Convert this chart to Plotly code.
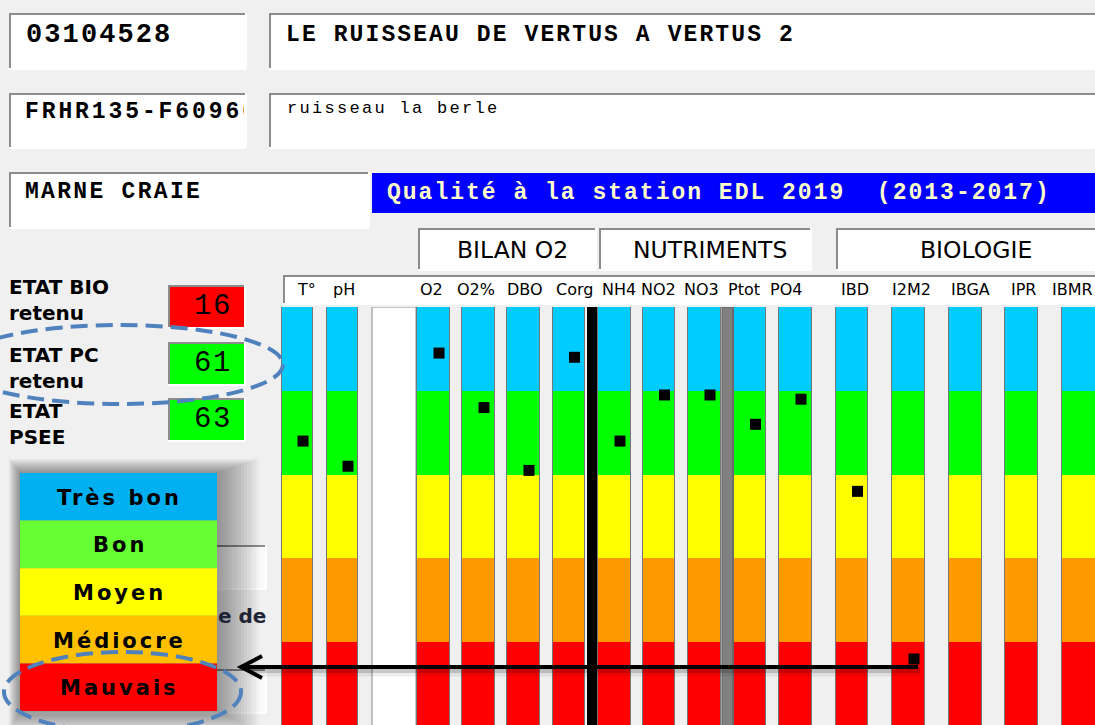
import plotly.graph_objects as go

# ---------------- data ----------------
params = ["T°", "pH", "O2", "O2%", "DBO", "Corg", "NH4", "NO2", "NO3",
          "Ptot", "PO4", "IBD", "I2M2", "IBGA", "IPR", "IBMR"]
scores = [68, 62, 89, 76, 61, 88, 68, 79, 79, 72, 78, 56, 16, 0, 0, 0]

class_names = ["Mauvais", "Médiocre", "Moyen", "Bon", "Très bon"]
class_lower = [0, 20, 40, 60, 80]
class_upper = [20, 40, 60, 80, 100]

etat_labels = ["ETAT BIO<br>retenu", "ETAT PC<br>retenu", "ETAT<br>PSEE"]
etat_values = [16, 61, 63]

group_names = ["BILAN O2", "NUTRIMENTS", "BIOLOGIE"]

station_code = "03104528"
station_name = "LE RUISSEAU DE VERTUS A VERTUS 2"
water_body = "FRHR135-F60960"
river_name = "ruisseau la berle"
hydro_region = "MARNE CRAIE"
panel_title = "Qualité à la station EDL 2019  (2013-2017)"

# ---------------- layout constants (pixels) ----------------
W, H = 1095, 725
BG = "#F0F0F0"
BORDER = "#8C8C8C"
bar_colors = ["#FF0000", "#FF9900", "#FFFF00", "#00FF00", "#00CCFF"]
legend_colors = ["#FF0000", "#FFC000", "#FFFF00", "#66FF33", "#00B0F0"]

col_left = [282, 327, 417, 462, 507, 553, 598, 643, 688, 734, 779, 836, 892, 949, 1005, 1062]
col_right = [313, 358, 450, 495, 540, 585, 631, 675, 721, 766, 812, 868, 925, 982, 1038, 1096]
centers = [(a + b) / 2 for a, b in zip(col_left, col_right)]
widths = [b - a for a, b in zip(col_left, col_right)]
marker_x = [c + 5.5 for c in centers]
label_x = [306, 344, 431, 476, 525, 574, 619, 658, 701, 744, 786, 855, 911, 970, 1023, 1072]

# score axis: 100 at pixel row 307, 0 at pixel row 726
Y_TOP_PX, Y_ZERO_PX = 307, 726
px_per_unit = (Y_ZERO_PX - Y_TOP_PX) / 100.0
y2_bottom = (Y_ZERO_PX - H) / px_per_unit
y2_domain_top = (H - Y_TOP_PX) / H

shapes = []
annotations = []


def rect(x0, y0, x1, y1, fill, line_color=None, lw=0, layer="above", yref="y"):
    shapes.append(dict(type="rect", xref="x", yref=yref, x0=x0, y0=y0, x1=x1, y1=y1,
                       fillcolor=fill, layer=layer,
                       line=dict(width=lw, color=line_color or "rgba(0,0,0,0)")))


def seg(x0, y0, x1, y1, color, width, layer="above", yref="y"):
    shapes.append(dict(type="line", xref="x", yref=yref, x0=x0, y0=y0, x1=x1, y1=y1,
                       layer=layer, line=dict(color=color, width=width)))


def sunken(x0, y0, x1, y1, fill="white", layer="below"):
    rect(x0, y0, x1, y1, fill, layer=layer)
    seg(x0, y0 + 1, x1, y0 + 1, BORDER, 2, layer=layer)
    seg(x0 + 1, y0, x0 + 1, y1, BORDER, 2, layer=layer)
    seg(x0, y1 + 1, x1 + 1, y1 + 1, "white", 2, layer=layer)
    seg(x1 + 1, y0, x1 + 1, y1 + 1, "white", 2, layer=layer)


def text(x, y, s, size, family="DejaVu Sans", color="black", weight="normal",
         anchor="center", ls=None):
    if ls:
        s = f'<span style="letter-spacing:{ls}px">{s}</span>'
    annotations.append(dict(x=x, y=y, xref="x", yref="y", text=s, showarrow=False,
                            xanchor=anchor, yanchor="middle", borderpad=0,
                            font=dict(family=family, size=size, color=color, weight=weight)))


MONO = "Liberation Mono"

# ---- header fields ----
sunken(9, 13, 245, 68)
sunken(269, 13, 1100, 68)
sunken(9, 93, 245, 147)
sunken(269, 93, 1100, 147)
sunken(9, 172, 368, 227)
rect(372, 173, 1100, 213, "#0000FF", layer="below")

text(25, 35, station_code, 27, MONO, weight="bold", anchor="left", ls=2.1)
text(285, 35, station_name, 23, MONO, weight="bold", anchor="left", ls=2.1)
text(286, 108, river_name, 17, MONO, anchor="left", ls=2.3)
text(24, 192, hydro_region, 23, MONO, weight="bold", anchor="left", ls=2.3)
text(386, 193, panel_title, 23, MONO, color="#FFFFCC", weight="bold", anchor="left", ls=2.0)

# ---- group headers ----
group_boxes = [(418, 595), (599, 810), (836, 1100)]
group_text_x = [512, 710, 976]
for (gx0, gx1), gx, name in zip(group_boxes, group_text_x, group_names):
    sunken(gx0, 228, gx1, 269)
    text(gx, 250, name, 23.5)

# ---- parameter header row ----
sunken(283, 275, 1100, 303)
for lx, p in zip(label_x, params):
    text(lx, 289, p, 16)

# ---- left status block ----
etat_y = [300, 368, 424]
etat_box_y = [(285, 327), (342, 384), (398, 440)]


def class_color(v):
    for lo, hi, c in zip(class_lower, class_upper, bar_colors):
        if lo <= v < hi or (v == 100 and hi == 100):
            return c
    return bar_colors[0]


for lbl, ly, (by0, by1), val in zip(etat_labels, etat_y, etat_box_y, etat_values):
    annotations.append(dict(x=8, y=ly, xref="x", yref="y", text=lbl, showarrow=False,
                            xanchor="left", yanchor="middle", align="left", borderpad=0,
                            font=dict(family="DejaVu Sans", size=20, color="black", weight="bold")))
    sunken(168, by0, 244, by1, fill=class_color(val))
    text(213, (by0 + by1) / 2, str(val), 29, MONO, ls=1.5)

# boxes partly hidden behind the legend
sunken(20, 545, 265, 588, fill="#FAFAFA")
sunken(20, 669, 265, 712, fill="#FAFAFA")
text(217, 616, "e de", 20, "DejaVu Sans", color="#1E2433", weight="bold", anchor="left")

# ---- legend with soft drop shadow ----
LX0, LY0, LX1, LY1 = 20, 473, 217, 711
for k in range(1, 15):
    rect(LX0 - 0.8 * k, LY0 - 1.0 * k, LX1 + 3.0 * k, LY1 + 1.5 * k, "rgba(0,0,0,0.03)")
row_h = (LY1 - LY0) / len(class_names)
for i, (name, col) in enumerate(zip(class_names[::-1], legend_colors[::-1])):
    ry0 = LY0 + i * row_h
    rect(LX0, ry0, LX1, ry0 + row_h, col)
    text((LX0 + LX1) / 2 + 1, ry0 + row_h / 2 + 1, name, 21, "DejaVu Sans", weight="bold", ls=3)

# ---- separator columns inside the chart ----
rect(372, 0, 416, 100, "white", line_color="#8A8A8A", lw=1, yref="y2", layer="below")
rect(587, 0, 597, 100, "black", yref="y2")
rect(722, 0, 733, 100, "#808080", line_color="#5A5A5A", lw=1, yref="y2")

# ---- arrow (with shadow) ----
ARROW_Y, ARROW_X0, ARROW_X1 = 667, 918, 241
for off, w, a in [(5, 9, 0.07), (3, 6, 0.16)]:
    seg(ARROW_X1 + 8, ARROW_Y + off, ARROW_X0 + 2, ARROW_Y + off, f"rgba(0,0,0,{a})", w)
seg(ARROW_X0, ARROW_Y, ARROW_X1 + 2, ARROW_Y, "black", 4)
shapes.append(dict(type="path", xref="x", yref="y",
                   path=f"M {ARROW_X1 + 21},{ARROW_Y - 11} L {ARROW_X1},{ARROW_Y} L {ARROW_X1 + 21},{ARROW_Y + 11}",
                   line=dict(color="black", width=4), fillcolor="rgba(0,0,0,0)"))

# ---- dashed highlight ellipses ----
ELL = dict(color="#4F81BD", width=4, dash="17px,8px")
shapes.append(dict(type="circle", xref="x", yref="y", x0=-44, y0=325, x1=283, y1=404, line=ELL))
shapes.append(dict(type="circle", xref="x", yref="y", x0=4, y0=652, x1=241, y1=732, line=ELL))

# ---------------- traces ----------------
fig = go.Figure()
n = len(params)
for k in range(len(class_names)):
    fig.add_trace(go.Bar(
        x=centers, y=[class_upper[k] - class_lower[k]] * n, base=[class_lower[k]] * n,
        width=widths, marker=dict(color=bar_colors[k], line=dict(width=0)),
        xaxis="x", yaxis="y2", hoverinfo="skip", showlegend=False, name=class_names[k]))
fig.add_trace(go.Bar(
    x=centers, y=[class_upper[-1] - class_lower[0]] * n, base=[class_lower[0]] * n,
    width=widths, marker=dict(color="rgba(0,0,0,0)", line=dict(color="#777777", width=1)),
    xaxis="x", yaxis="y2", hoverinfo="skip", showlegend=False))
fig.add_trace(go.Scatter(
    x=marker_x, y=scores, mode="markers", text=params,
    marker=dict(symbol="square", size=11, color="black", line=dict(width=0)),
    cliponaxis=False, xaxis="x", yaxis="y2", showlegend=False))

# water body code, clipped to its field
fig.add_trace(go.Scatter(
    x=[25], y=[112], mode="text", textposition="middle right",
    text=[f'<span style="letter-spacing:2.9px">{water_body}</span>'],
    textfont=dict(family=MONO, size=23, color="black", weight="bold"),
    cliponaxis=True, xaxis="x3", yaxis="y3", showlegend=False, hoverinfo="skip"))

fig.update_layout(
    width=W, height=H, autosize=False,
    margin=dict(l=0, r=0, t=0, b=0, pad=0),
    paper_bgcolor=BG, plot_bgcolor="rgba(0,0,0,0)",
    barmode="overlay", bargap=0, showlegend=False,
    xaxis=dict(range=[0, W], domain=[0, 1], visible=False, fixedrange=True),
    yaxis=dict(range=[H, 0], domain=[0, 1], visible=False, fixedrange=True),
    yaxis2=dict(range=[y2_bottom, 100], domain=[0, y2_domain_top], anchor="x",
                visible=False, fixedrange=True),
    xaxis3=dict(range=[11, 244], domain=[11 / W, 244 / W], anchor="y3",
                visible=False, fixedrange=True),
    yaxis3=dict(range=[146, 95], domain=[(H - 146) / H, (H - 95) / H], anchor="x3",
                visible=False, fixedrange=True),
    shapes=shapes, annotations=annotations,
)

fig.write_html("out.html")
